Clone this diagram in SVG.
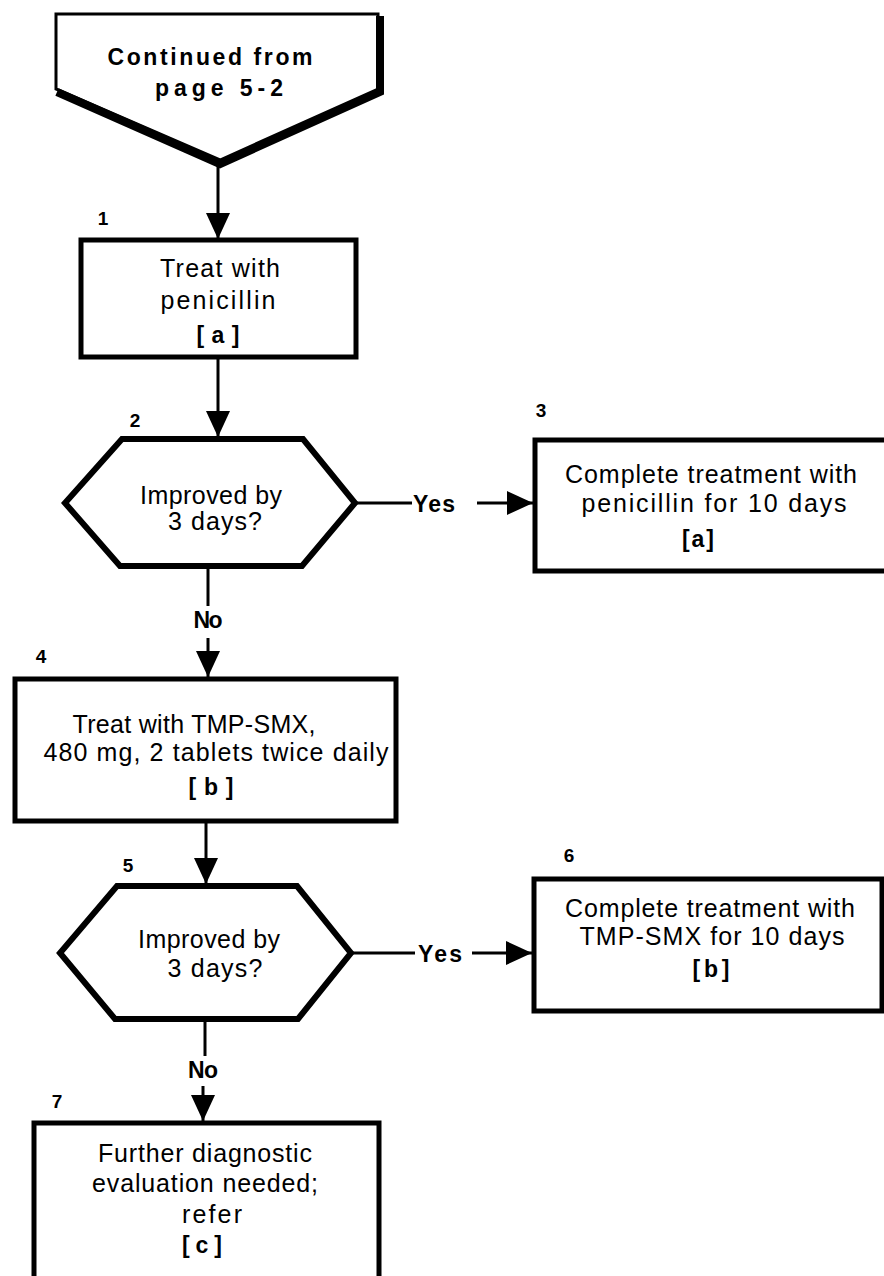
<svg xmlns="http://www.w3.org/2000/svg" width="884" height="1276" viewBox="0 0 884 1276">
  <style>
    .box { fill: #fff; stroke: #000; stroke-width: 5; }
    .hex { fill: #fff; stroke: #000; stroke-width: 6; stroke-linejoin: miter; }
    .t { font-family: "Liberation Sans", Arial, sans-serif; font-size: 25px; fill: #000; text-anchor: middle; }
    .b { font-family: "Liberation Sans", Arial, sans-serif; font-weight: bold; font-size: 23px; fill: #000; text-anchor: middle; }
    .num { font-family: "Liberation Sans", Arial, sans-serif; font-weight: bold; font-size: 19px; fill: #000; text-anchor: middle; }
    .ln { stroke: #000; stroke-width: 3; fill: none; }
  </style>
  <defs>
    <marker id="arrow" markerUnits="userSpaceOnUse" markerWidth="26" markerHeight="26" refX="26" refY="12" orient="auto">
      <path d="M0,0 L26,12 L0,24 Z" fill="#000"/>
    </marker>
  </defs>
  <rect width="884" height="1276" fill="#fff"/>

  <!-- off-page connector -->
  <g id="start">
    <polygon points="56,14 378,14 378,89 220,160 56,89" fill="#fff" stroke="#000" stroke-width="3"/>
    <polyline points="57,92 220,164 380,92 380,16" fill="none" stroke="#000" stroke-width="8" stroke-linejoin="miter"/>
    <text class="b" x="210" y="65" font-size="25" textLength="205" lengthAdjust="spacing">Continued from</text>
    <text class="b" x="219" y="96" font-size="25" textLength="128" lengthAdjust="spacing">page  5-2</text>
  </g>

  <g id="n1">
    <rect class="box" x="81" y="240" width="275" height="117"/>
    <text class="num" x="103" y="225">1</text>
    <text class="t" x="220" y="277" textLength="120" lengthAdjust="spacing">Treat with</text>
    <text class="t" x="218" y="309" textLength="115" lengthAdjust="spacing">penicillin</text>
    <text class="b" x="218" y="343" textLength="43" lengthAdjust="spacing">[ a ]</text>
  </g>

  <g id="n2">
    <polygon class="hex" points="122,439 303,439 355,503 302,566 120,566 65,503"/>
    <text class="num" x="135" y="427">2</text>
    <text class="t" x="211" y="504" textLength="142" lengthAdjust="spacing">Improved by</text>
    <text class="t" x="215" y="530" textLength="94" lengthAdjust="spacing">3 days?</text>
  </g>

  <g id="n3">
    <rect class="box" x="535" y="440" width="352" height="131"/>
    <text class="num" x="541" y="417">3</text>
    <text class="t" x="711" y="483" textLength="292" lengthAdjust="spacing">Complete treatment with</text>
    <text class="t" x="714" y="512" textLength="265" lengthAdjust="spacing">penicillin for 10 days</text>
    <text class="b" x="698" y="547" textLength="32" lengthAdjust="spacing">[ a ]</text>
  </g>

  <g id="n4">
    <rect class="box" x="15" y="679" width="381" height="142"/>
    <text class="num" x="41" y="663">4</text>
    <text class="t" x="194" y="733" textLength="243" lengthAdjust="spacing">Treat with TMP-SMX,</text>
    <text class="t" x="216" y="761" textLength="345" lengthAdjust="spacing">480 mg, 2 tablets twice daily</text>
    <text class="b" x="211" y="795" textLength="45" lengthAdjust="spacing">[ b ]</text>
  </g>

  <g id="n5">
    <polygon class="hex" points="117,886 297,886 351,953 298,1019 115,1019 60,953"/>
    <text class="num" x="128" y="872">5</text>
    <text class="t" x="209" y="948" textLength="142" lengthAdjust="spacing">Improved by</text>
    <text class="t" x="215" y="977" textLength="95" lengthAdjust="spacing">3 days?</text>
  </g>

  <g id="n6">
    <rect class="box" x="534" y="879" width="348" height="132"/>
    <text class="num" x="569" y="862">6</text>
    <text class="t" x="710" y="917" textLength="290" lengthAdjust="spacing">Complete treatment with</text>
    <text class="t" x="712" y="945" textLength="265" lengthAdjust="spacing">TMP-SMX for 10 days</text>
    <text class="b" x="711" y="977" textLength="37" lengthAdjust="spacing">[ b ]</text>
  </g>

  <g id="n7">
    <rect class="box" x="34" y="1123" width="345" height="170"/>
    <text class="num" x="57" y="1108">7</text>
    <text class="t" x="205" y="1162" textLength="214" lengthAdjust="spacing">Further diagnostic</text>
    <text class="t" x="205" y="1192" textLength="226" lengthAdjust="spacing">evaluation needed;</text>
    <text class="t" x="212" y="1223" textLength="60" lengthAdjust="spacing">refer</text>
    <text class="b" x="202" y="1253" textLength="40" lengthAdjust="spacing">[ c ]</text>
  </g>

  <g id="connectors">
    <line class="ln" x1="218" y1="164" x2="218" y2="239" marker-end="url(#arrow)"/>
    <line class="ln" x1="218" y1="358" x2="218" y2="437" marker-end="url(#arrow)"/>
    <line class="ln" x1="357" y1="503" x2="412" y2="503"/>
    <text class="b" x="434" y="512" font-size="20" textLength="42" lengthAdjust="spacing">Yes</text>
    <line class="ln" x1="477" y1="503" x2="533" y2="503" marker-end="url(#arrow)"/>
    <line class="ln" x1="208" y1="568" x2="208" y2="606"/>
    <text class="b" x="208" y="628" font-size="20" textLength="29" lengthAdjust="spacing">No</text>
    <line class="ln" x1="208" y1="638" x2="208" y2="677" marker-end="url(#arrow)"/>
    <line class="ln" x1="206" y1="822" x2="206" y2="884" marker-end="url(#arrow)"/>
    <line class="ln" x1="353" y1="953" x2="415" y2="953"/>
    <text class="b" x="440" y="962" font-size="20" textLength="44" lengthAdjust="spacing">Yes</text>
    <line class="ln" x1="472" y1="953" x2="532" y2="953" marker-end="url(#arrow)"/>
    <line class="ln" x1="205" y1="1021" x2="205" y2="1056"/>
    <text class="b" x="203" y="1078" font-size="20" textLength="30" lengthAdjust="spacing">No</text>
    <line class="ln" x1="203" y1="1086" x2="203" y2="1121" marker-end="url(#arrow)"/>
  </g>
</svg>
